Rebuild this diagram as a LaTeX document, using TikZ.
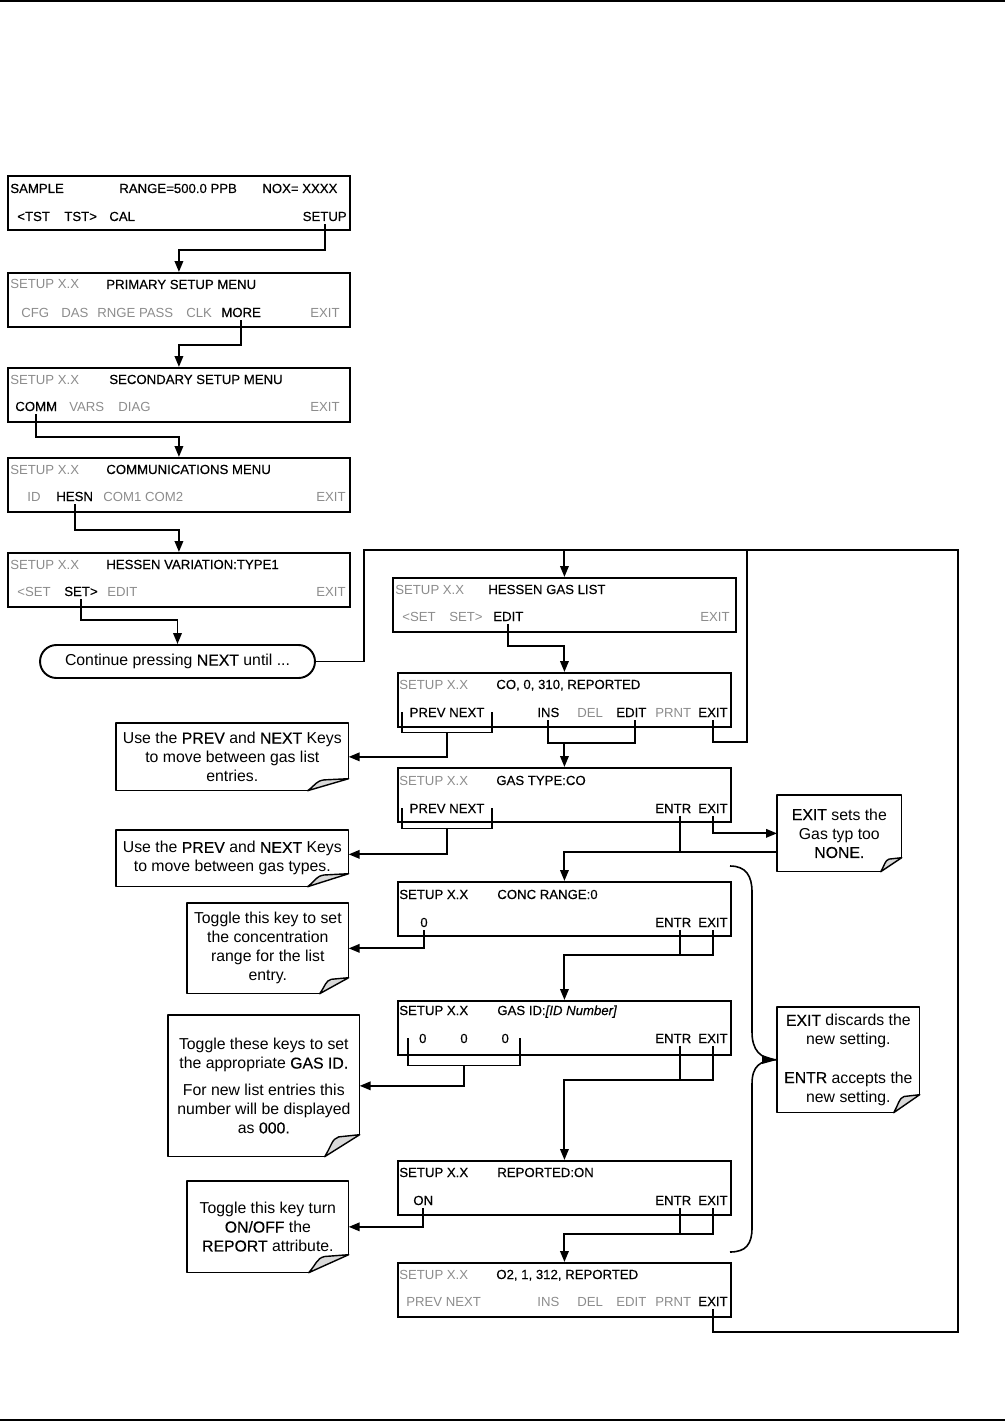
\documentclass[tikz,border=0pt]{standalone}
\usepackage{fontspec}
\setmainfont{Liberation Sans}
\newfontfamily\keyfont{Liberation Sans}[FakeBold=0.4]
\newcommand{\kw}[1]{{\keyfont #1}}
\usetikzlibrary{arrows.meta, calc}

\begin{document}
\begin{tikzpicture}[
        x=0.02cm, y=-0.02cm,
        disp/.style={rectangle, draw, line width=1.1pt, anchor=north west, minimum width=6.84cm, minimum height=1.08cm},
        disp2/.style={disp, minimum width=6.66cm},
        lbl/.style={anchor=base west, inner xsep=0pt, inner ysep=1.5pt, font=\fontsize{7.5}{9}\selectfont\keyfont},
        lblg/.style={lbl, text=black!45, font=\fontsize{7.5}{9}\selectfont},
        note/.style={anchor=north west, align=center, inner sep=0pt, font=\fontsize{9}{10.8}\selectfont},
        noteline/.style={line width=0.8pt, line join=round},
        conn/.style={line width=1.1pt},
        arrow/.style={conn, ->, >={Stealth[inset=0pt, length=2.2mm, width=1.7mm]}}
    ]
        \useasboundingbox (0,0) rectangle (1005,1422);
        \draw[line width=1.2pt] (0,1) -- (1005,1);
        \draw[line width=1.2pt] (0,1420) -- (1005,1420);

        % Main menu screens
        \node[disp] (d1) at (7,175) {};
        \node[lbl] (d1a) at (10,193) {SAMPLE};
        \node[lbl] (d1b) at (119,193) {RANGE=500.0 PPB};
        \node[lbl] (d1c) at (262,193) {NOX= XXXX};
        \node[lbl] (d1d) at (17,221) {<TST};
        \node[lbl] (d1e) at (64,221) {TST>};
        \node[lbl] (d1f) at (109,221) {CAL};
        \node[lbl, anchor=base east] (d1setup) at (347,221) {SETUP};

        \node[disp] (d2) at (7,272) {};
        \node[lblg] (d2a) at (10,289) {SETUP X.X};
        \node[lbl] (d2b) at (106,289) {PRIMARY SETUP MENU};
        \node[lblg] (d2c) at (21,317) {CFG};
        \node[lblg] (d2d) at (61,317) {DAS};
        \node[lblg] (d2e) at (97,317) {RNGE PASS};
        \node[lblg] (d2f) at (186,317) {CLK};
        \node[lbl] (d2more) at (221,317) {MORE};
        \node[lblg] (d2g) at (310,317) {EXIT};

        \node[disp] (d3) at (7,367) {};
        \node[lblg] (d3a) at (10,384) {SETUP X.X};
        \node[lbl] (d3b) at (109,384) {SECONDARY SETUP MENU};
        \node[lbl] (d3comm) at (15,411) {COMM};
        \node[lblg] (d3c) at (69,411) {VARS};
        \node[lblg] (d3d) at (118,411) {DIAG};
        \node[lblg] (d3e) at (310,411) {EXIT};

        \node[disp] (d4) at (7,457) {};
        \node[lblg] (d4a) at (10,474) {SETUP X.X};
        \node[lbl] (d4b) at (106,474) {COMMUNICATIONS MENU};
        \node[lblg] (d4c) at (27,501) {ID};
        \node[lbl] (d4hesn) at (56,501) {HESN};
        \node[lblg] (d4d) at (103,501) {COM1 COM2};
        \node[lblg] (d4e) at (316,501) {EXIT};

        \node[disp] (d5) at (7,552) {};
        \node[lblg] (d5a) at (10,569) {SETUP X.X};
        \node[lbl] (d5b) at (106,569) {HESSEN VARIATION:TYPE1};
        \node[lblg] (d5c) at (17,596) {<SET};
        \node[lbl] (d5set) at (64,596) {SET>};
        \node[lblg] (d5d) at (107,596) {EDIT};
        \node[lblg] (d5e) at (316,596) {EXIT};

        \node[draw, line width=1.1pt, rounded corners=0.33cm, minimum width=5.5cm, minimum height=0.66cm, font=\fontsize{9}{10.8}\selectfont] (oval) at (177.5,661.5) {Continue pressing \kw{NEXT} until ...};

        % Gas list screens
        \node[disp, minimum width=6.86cm] (d6) at (392,577) {};
        \node[lblg] (d6a) at (395,594) {SETUP X.X};
        \node[lbl] (d6b) at (488,594) {HESSEN GAS LIST};
        \node[lblg] (d6c) at (402,621) {<SET};
        \node[lblg] (d6d) at (449,621) {SET>};
        \node[lbl] (d6edit) at (493,621) {EDIT};
        \node[lblg] (d6e) at (700,621) {EXIT};

        \node[disp2] (d7) at (397,672) {};
        \node[lblg] (d7a) at (399,689) {SETUP X.X};
        \node[lbl] (d7b) at (496,689) {CO, 0, 310, REPORTED};
        \node[lbl, anchor=base, inner xsep=0.15cm] (d7pn) at (447,717) {PREV NEXT};
        \node[lbl] (d7ins) at (537,717) {INS};
        \node[lblg] (d7c) at (577,717) {DEL};
        \node[lbl] (d7edit) at (616,717) {EDIT};
        \node[lblg] (d7d) at (655,717) {PRNT};
        \node[lbl] (d7exit) at (698,717) {EXIT};

        \node[disp2] (d8) at (397,767) {};
        \node[lblg] (d8a) at (399,785) {SETUP X.X};
        \node[lbl] (d8b) at (496,785) {GAS TYPE:CO};
        \node[lbl, anchor=base, inner xsep=0.15cm] (d8pn) at (447,813) {PREV NEXT};
        \node[lbl] (d8entr) at (655,813) {ENTR};
        \node[lbl] (d8exit) at (698,813) {EXIT};

        \node[disp2] (d9) at (397,881) {};
        \node[lbl] (d9a) at (399,899) {SETUP X.X};
        \node[lbl] (d9b) at (497,899) {CONC RANGE:0};
        \node[lbl] (d9zero) at (420,927) {0};
        \node[lbl] (d9entr) at (655,927) {ENTR};
        \node[lbl] (d9exit) at (698,927) {EXIT};

        \node[disp2] (d10) at (397,1000) {};
        \node[lbl] (d10a) at (399,1015) {SETUP X.X};
        \node[lbl] (d10b) at (497,1015) {GAS ID:\textit{[ID Number]}};
        \node[lbl, anchor=base, inner xsep=0.22cm] (d10id) at (464,1043) {0\hspace{19.3pt}0\hspace{19.3pt}0};
        \node[lbl] (d10entr) at (655,1043) {ENTR};
        \node[lbl] (d10exit) at (698,1043) {EXIT};

        \node[disp2] (d11) at (397,1160) {};
        \node[lbl] (d11a) at (399,1177) {SETUP X.X};
        \node[lbl] (d11b) at (497,1177) {REPORTED:ON};
        \node[lbl] (d11on) at (413,1205) {ON};
        \node[lbl] (d11entr) at (655,1205) {ENTR};
        \node[lbl] (d11exit) at (698,1205) {EXIT};

        \node[disp2] (d12) at (397,1262) {};
        \node[lblg] (d12a) at (399,1279) {SETUP X.X};
        \node[lbl] (d12b) at (496,1279) {O2, 1, 312, REPORTED};
        \node[lblg] (d12c) at (406,1306) {PREV NEXT};
        \node[lblg] (d12d) at (537,1306) {INS};
        \node[lblg] (d12e) at (577,1306) {DEL};
        \node[lblg] (d12f) at (616,1306) {EDIT};
        \node[lblg] (d12g) at (655,1306) {PRNT};
        \node[lbl] (d12exit) at (698,1306) {EXIT};

        % Notes
        \node[note, minimum width=4.64cm, minimum height=1.34cm] (n1) at (116,723) {Use the \kw{PREV} and \kw{NEXT} Keys\\to move between gas list\\entries.};
        \node[note, minimum width=4.64cm, minimum height=1.12cm] (n2) at (116,830) {Use the \kw{PREV} and \kw{NEXT} Keys\\to move between gas types.};
        \node[note, minimum width=3.22cm, minimum height=1.8cm] (n3) at (187,903) {Toggle this key to set\\the concentration\\range for the list\\entry.};
        \node[note, minimum width=3.82cm, minimum height=2.82cm] (n4) at (168,1015) {Toggle these keys to set\\the appropriate \kw{GAS ID.}\\[4.5pt]For new list entries this\\number will be displayed\\as \kw{000.}};
        \node[note, minimum width=3.22cm, minimum height=1.82cm] (n5) at (187,1181) {Toggle this key turn\\\kw{ON/OFF} the\\\kw{REPORT} attribute.};
        \node[note, minimum width=2.48cm, minimum height=1.52cm] (n6) at (777,795) {\kw{EXIT} sets the\\Gas typ too\\\kw{NONE.}};
        \node[note, minimum width=2.84cm, minimum height=2.1cm] (n7) at (777,1007) {\kw{EXIT} discards the\\new setting.\\[11pt]\kw{ENTR} accepts the\\new setting.};

        \foreach \n/\fw/\fh in {n1/41/12, n2/41/13, n3/29/16, n4/35/22, n5/40/18, n6/21/14, n7/26/18} {
            \draw[noteline] ($(\n.south east)+(-\fw,0)$) -- (\n.south west) -- (\n.north west) -- (\n.north east) -- ($(\n.south east)+(0,-\fh)$);
            \filldraw[noteline, fill=black!15] ($(\n.south east)+(-\fw,0)$) .. controls +(0.2*\fw,-0.5*\fh) and +(-0.2*\fw,0.1*\fh) .. ($(\n.south east)+(-0.6*\fw,-0.9*\fh)$) -- ($(\n.south east)+(0,-\fh)$) -- cycle;
        }

        % Brace
        \draw[line width=0.9pt] (730,866) .. controls (746,866) and (752,876) .. (752,892) -- (752,1032) .. controls (752,1050) and (760,1059) .. (n7.west) .. controls (760,1060) and (752,1066) .. (752,1084) -- (752,1228) .. controls (752,1244) and (746,1252) .. (730,1252);
        \fill (762,1055) -- (n7.west) -- (762,1064) -- cycle;

        % Arrows
        \coordinate (bus) at ($(d6.north)+(0,-27)$);

        \draw[arrow] (d1setup.south) -- ++(0,26) -| (d2.north);
        \draw[arrow] (d2more.south) -- ++(0,25) -| (d3.north);
        \draw[arrow] (d3comm.south) -- ++(0,23) -| (d4.north);
        \draw[arrow] (d4hesn.south) -- ++(0,26) -| (d5.north);
        \draw[arrow] (d5set.south) -- ++(0,21) -| (oval.north);

        \draw[arrow] (oval.east) -- ++(48,0) |- (bus) -- (d6.north);
        \draw[conn] (d7exit.south) -- ++(0,22) -| ($(bus)+(183,0)$) -- (bus);
        \draw[conn] (d12exit.south) -- ++(0,23) -| ($(bus)+(394,0)$) -- (bus);

        \draw[arrow] (d6edit.south) -- ++(0,22) -| (d7.north);

        \draw[conn] (d7pn.west) -- ++(0,20) -| (d7pn.east);
        \draw[arrow] ($(d7pn.west)!.5!(d7pn.east)+(0,20)$) |- (n1.east);
        \draw[conn] (d7ins.south) -- ++(0,23) -| ($(d7edit.south)+(4,0)$);
        \draw[arrow] ($(d8.north)+(0,-24)$) -- (d8.north);

        \draw[conn] (d8pn.west) -- ++(0,20) -| (d8pn.east);
        \draw[arrow] ($(d8pn.west)!.5!(d8pn.east)+(0,20)$) |- ($(n2.east)+(0,-4)$);
        \draw[arrow] (d8exit.south) |- (n6.west);
        \draw[conn] ($(d8entr.south)+(7,0)$) -- ++(0,37);
        \draw[arrow] ($(n6.west)+(0,19)$) -| (d9.north);

        \draw[arrow] (d9zero.south) |- (n3.east);
        \draw[conn] ($(d9entr.south)+(7,0)$) -- ++(0,25);
        \draw[arrow] (d9exit.south) -- ++(0,25) -| (d10.north);

        \draw[conn] (d10id.west) -- ++(0,27) -| (d10id.east);
        \draw[arrow] ($(d10id.west)!.5!(d10id.east)+(0,27)$) |- (n4.east);
        \draw[conn] ($(d10entr.south)+(7,0)$) -- ++(0,34);
        \draw[arrow] (d10exit.south) -- ++(0,34) -| (d11.north);

        \draw[arrow] (d11on.south) |- (n5.east);
        \draw[conn] ($(d11entr.south)+(7,0)$) -- ++(0,26);
        \draw[arrow] (d11exit.south) -- ++(0,26) -| (d12.north);
    \end{tikzpicture}
\end{document}
